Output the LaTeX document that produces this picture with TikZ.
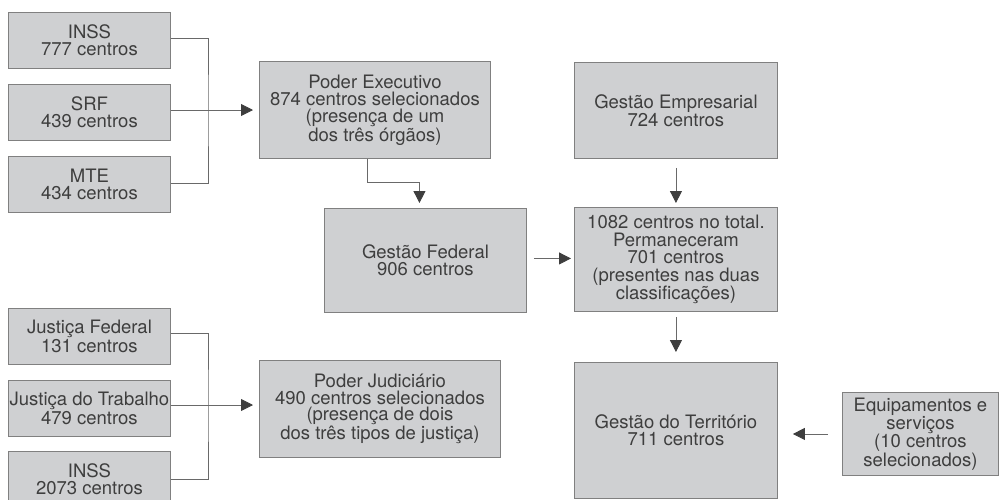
\documentclass[tikz,border=0pt]{standalone}
\usepackage{fontspec}
\setmainfont{TeX Gyre Heros}
\usetikzlibrary{arrows.meta}
\definecolor{boxgray}{RGB}{207,208,210}
\definecolor{linegray}{RGB}{105,105,105}
\definecolor{inkgray}{RGB}{62,62,62}
\tikzset{
  box/.style={draw=linegray!85, line width=0.9pt, fill=boxgray, text=inkgray, align=center,
    inner sep=0pt, anchor=north west, font={\fontsize{18.5}{17}\selectfont}},
  link/.style={draw=linegray, line width=0.8pt},
  arr/.style={link, -{Triangle[length=12pt,width=12pt,color=inkgray]}},
}
\begin{document}
\begin{tikzpicture}[x=1pt, y=-1pt]
        \useasboundingbox (0,0) rectangle (999,499);
        % executive sources
        \foreach \t/\c/\y [count=\n] in {INSS/777/12, SRF/439/84, MTE/434/156} {
          \node[box, minimum width=162pt, minimum height=56pt] (ex\n) at (8,\y) {\t\\\c{} centros};
        }
        % judiciary sources
        \foreach \t/\c/\y [count=\n] in {Justiça Federal/131/308, Justiça do Trabalho/479/380, INSS/2073/451} {
          \node[box, minimum width=162pt, minimum height=56pt] (ju\n) at (8,\y) {\t\\\c{} centros};
        }
        % main boxes
        \node[box, minimum width=231pt, minimum height=97pt] (exec) at (259,61) {Poder Executivo\\874 centros selecionados\\(presença de um\\dos três órgãos)};
        \node[box, minimum width=241pt, minimum height=97pt, font={\fontsize{18.5}{16.6}\selectfont}] (jud) at (259,360) {Poder Judiciário\\490 centros selecionados\\(presença de dois\\dos três tipos de justiça)};
        \node[box, minimum width=202pt, minimum height=104pt] (gf) at (324,208) {Gestão Federal\\906 centros};
        \node[box, minimum width=203pt, minimum height=96pt] (es) at (574,62) {Gestão Empresarial\\724 centros};
        \node[box, minimum width=203pt, minimum height=104pt, font={\fontsize{18.5}{17.5}\selectfont}] (tot) at (574,207) {1082 centros no total.\\Permaneceram\\701 centros\\(presentes nas duas\\classificações)};
        \node[box, minimum width=203pt, minimum height=136pt] (terr) at (574,362) {Gestão do Território\\711 centros};
        \node[box, minimum width=156pt, minimum height=83pt, font={\fontsize{18.5}{15.8}\selectfont}] (eq) at (842,392) {Equipamentos e\\serviços\\(10 centros\\selecionados)};
        % brackets
        \coordinate (exjoin) at (208,110);
        \coordinate (jujoin) at (208,405);
        \draw[link] ([yshift=2pt]ex1.east) -| (exjoin) |- ([yshift=1pt]ex3.east);
        \draw[link] (ex2.east |- exjoin) -- (exjoin);
        \draw[arr, shorten >=6pt] (exjoin) -- (exjoin -| exec.west);
        \draw[link] ([yshift=3pt]ju1.east) -| (jujoin) |- (ju3.east);
        \draw[link] (ju2.east |- jujoin) -- (jujoin);
        \draw[arr, shorten >=6pt] (jujoin) -- (jujoin -| jud.west);
        % flow
        \draw[arr, shorten >=5pt] ([xshift=-8pt]exec.south) -- ++(0,23) -| ([xshift=-6pt]gf.north);
        \draw[arr, shorten <=7pt, shorten >=3pt] ([yshift=2pt]gf.east) -- ([yshift=2pt]gf.east -| tot.west);
        \draw[arr, shorten <=9pt, shorten >=4pt] (es.south) -- (tot.north);
        \draw[arr, shorten <=5pt, shorten >=10pt] (tot.south) -- (terr.north);
        \draw[arr, shorten <=14pt, shorten >=15pt] (eq.west) -- (eq.west -| terr.east);
      \end{tikzpicture}
\end{document}
